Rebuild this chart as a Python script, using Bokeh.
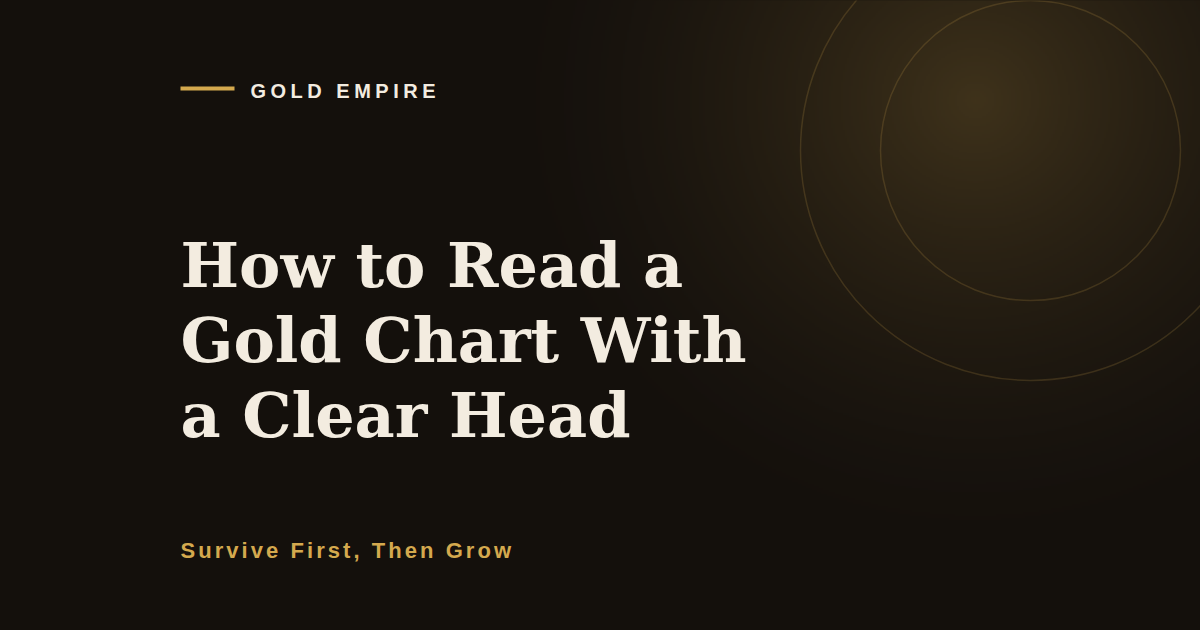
import numpy as np
from bokeh.plotting import figure
from bokeh.models import Range1d
from bokeh.core.properties import value
from bokeh.embed import file_html
from bokeh.resources import INLINE

# ---- content ----
brand = "GOLD EMPIRE"
title_lines = ["How to Read a", "Gold Chart With", "a Clear Head"]
tagline = "Survive First, Then Grow"
ring_radii = [150, 230]

# ---- style ----
BG = (20, 16, 12)
GOLD = "#d4a94e"
CREAM = "#f3ece0"
W, H = 1200, 630
SHIFT = 0.39  # svg baseline correction (em)

# Liberation Sans Bold advance widths (per 1000 em) for letter-spaced lines
ADV = {' ': 278, ',': 278, 'D': 722, 'E': 667, 'F': 611, 'G': 778, 'I': 278,
       'L': 611, 'M': 833, 'O': 778, 'P': 667, 'R': 722, 'S': 667, 'T': 611,
       'e': 556, 'h': 611, 'i': 278, 'n': 611, 'o': 611, 'r': 389, 's': 556,
       't': 333, 'u': 611, 'v': 556, 'w': 778}


def spaced(text, x0, size, spacing):
    xs, chars = [], []
    x = x0
    for ch in text:
        if ch != ' ':
            xs.append(x)
            chars.append(ch)
        x += ADV[ch] / 1000 * size + spacing
    return xs, chars


p = figure(width=W, height=H, x_range=Range1d(0, W), y_range=Range1d(H, 0),
           output_backend="svg", toolbar_location=None, min_border=0,
           x_axis_type=None, y_axis_type=None,
           background_fill_color="#14100c", border_fill_color="#14100c",
           outline_line_color=None)
p.grid.visible = False

# background with soft radial glow (decoration)
rows, cols = 330, 620
pad = 10
yy = -pad + (np.arange(rows) + 0.5) * (H + 2 * pad) / rows
xx = -pad + (np.arange(cols) + 0.5) * (W + 2 * pad) / cols
X, Y = np.meshgrid(xx, yy)
d = np.sqrt((X - 975) ** 2 + ((Y - 100) * 1.05) ** 2)
a = 0.22 * np.clip(1 - d / 470, 0, 1) ** 1.6
gold_rgb = np.array([212, 169, 78])
bg = np.array(BG)
img = np.zeros((rows, cols), dtype=np.uint32)
view = img.view(dtype=np.uint8).reshape((rows, cols, 4))
for k in range(3):
    view[:, :, k] = np.round(bg[k] + a * (gold_rgb[k] - bg[k])).astype(np.uint8)
view[:, :, 3] = 255
p.image_rgba(image=[img], x=-pad, y=-pad, dw=W + 2 * pad, dh=H + 2 * pad)

# rings
p.circle(x=[1030] * len(ring_radii), y=[150] * len(ring_radii), radius=ring_radii,
         fill_color=None, line_color=GOLD, line_alpha=0.18, line_width=1.5)

# brand rule + brand name
p.segment(x0=[180], y0=[88], x1=[234], y1=[88], line_color=GOLD, line_width=4,
          line_cap="butt")
bx, bc = spaced(brand, 250, 20, 4.5)
p.text(x=bx, y=[98 - SHIFT * 20] * len(bc), text=bc,
       text_font=value("Liberation Sans"), text_font_style="bold",
       text_font_size="20px", text_color=CREAM, text_align="left",
       text_baseline="alphabetic")

# title
title_size = 62
p.text(x=[180] * len(title_lines),
       y=[b - SHIFT * title_size for b in (289, 364, 439)], text=title_lines,
       text_font=value("DejaVu Serif"), text_font_style="bold",
       text_font_size=f"{title_size}px", text_color=CREAM, text_align="left",
       text_baseline="alphabetic")

# tagline
tx, tc = spaced(tagline, 180, 22, 3.05)
p.text(x=tx, y=[559 - SHIFT * 22] * len(tc), text=tc,
       text_font=value("Liberation Sans"), text_font_style="bold",
       text_font_size="22px", text_color=GOLD, text_align="left",
       text_baseline="alphabetic")

template = """{% block preamble %}<style>html,body{margin:0 !important;padding:0;overflow:hidden;background:radial-gradient(circle 470px at 975px 100px,#3a2f19 0%,#14100c 100%) #14100c;}</style>{% endblock %}"""
open("out.html", "w").write(file_html(p, INLINE, title="Gold Empire", template=template))
